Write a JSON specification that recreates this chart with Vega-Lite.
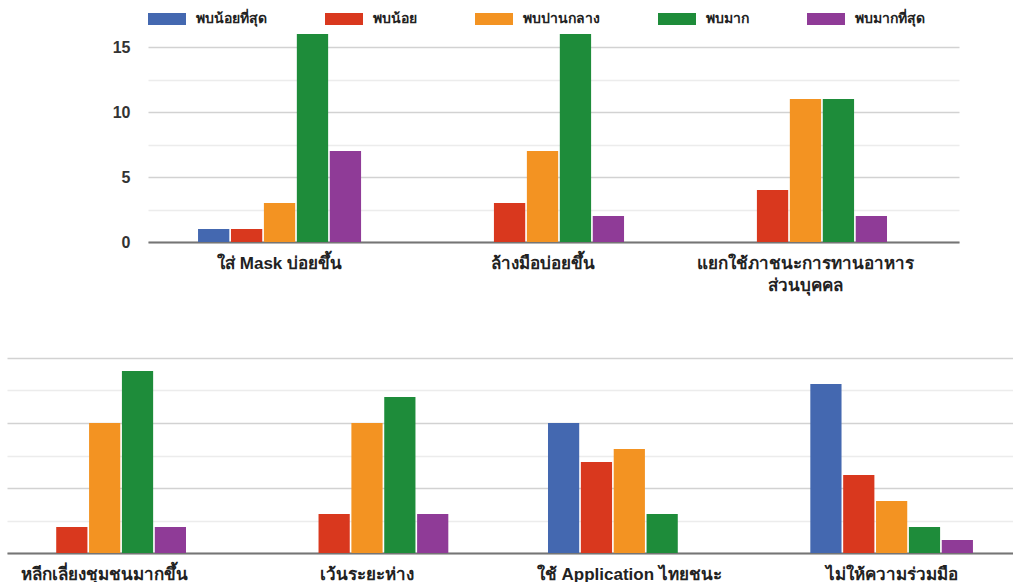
{
  "$schema": "https://vega.github.io/schema/vega-lite/v6.json",
  "background": "white",
  "padding": {"left": 7, "top": 0, "right": 0, "bottom": 0},
  "config": {
    "view": {"stroke": null},
    "font": "Liberation Sans",
    "axis": {"labelFont": "Liberation Sans"},
    "legend": {"labelFont": "Liberation Sans"}
  },
  "datasets": {
    "top": [
      {"item": "ใส่ Mask บ่อยขึ้น", "level": "พบน้อยที่สุด", "value": 1},
      {"item": "ใส่ Mask บ่อยขึ้น", "level": "พบน้อย", "value": 1},
      {"item": "ใส่ Mask บ่อยขึ้น", "level": "พบปานกลาง", "value": 3},
      {"item": "ใส่ Mask บ่อยขึ้น", "level": "พบมาก", "value": 16},
      {"item": "ใส่ Mask บ่อยขึ้น", "level": "พบมากที่สุด", "value": 7},
      {"item": "ล้างมือบ่อยขึ้น", "level": "พบน้อยที่สุด", "value": 0},
      {"item": "ล้างมือบ่อยขึ้น", "level": "พบน้อย", "value": 3},
      {"item": "ล้างมือบ่อยขึ้น", "level": "พบปานกลาง", "value": 7},
      {"item": "ล้างมือบ่อยขึ้น", "level": "พบมาก", "value": 16},
      {"item": "ล้างมือบ่อยขึ้น", "level": "พบมากที่สุด", "value": 2},
      {"item": "แยกใช้ภาชนะการทานอาหารส่วนบุคคล", "level": "พบน้อยที่สุด", "value": 0},
      {"item": "แยกใช้ภาชนะการทานอาหารส่วนบุคคล", "level": "พบน้อย", "value": 4},
      {"item": "แยกใช้ภาชนะการทานอาหารส่วนบุคคล", "level": "พบปานกลาง", "value": 11},
      {"item": "แยกใช้ภาชนะการทานอาหารส่วนบุคคล", "level": "พบมาก", "value": 11},
      {"item": "แยกใช้ภาชนะการทานอาหารส่วนบุคคล", "level": "พบมากที่สุด", "value": 2}
    ],
    "bottom": [
      {"item": "หลีกเลี่ยงชุมชนมากขึ้น", "level": "พบน้อยที่สุด", "value": 0},
      {"item": "หลีกเลี่ยงชุมชนมากขึ้น", "level": "พบน้อย", "value": 2},
      {"item": "หลีกเลี่ยงชุมชนมากขึ้น", "level": "พบปานกลาง", "value": 10},
      {"item": "หลีกเลี่ยงชุมชนมากขึ้น", "level": "พบมาก", "value": 14},
      {"item": "หลีกเลี่ยงชุมชนมากขึ้น", "level": "พบมากที่สุด", "value": 2},
      {"item": "เว้นระยะห่าง", "level": "พบน้อยที่สุด", "value": 0},
      {"item": "เว้นระยะห่าง", "level": "พบน้อย", "value": 3},
      {"item": "เว้นระยะห่าง", "level": "พบปานกลาง", "value": 10},
      {"item": "เว้นระยะห่าง", "level": "พบมาก", "value": 12},
      {"item": "เว้นระยะห่าง", "level": "พบมากที่สุด", "value": 3},
      {"item": "ใช้ Application ไทยชนะ", "level": "พบน้อยที่สุด", "value": 10},
      {"item": "ใช้ Application ไทยชนะ", "level": "พบน้อย", "value": 7},
      {"item": "ใช้ Application ไทยชนะ", "level": "พบปานกลาง", "value": 8},
      {"item": "ใช้ Application ไทยชนะ", "level": "พบมาก", "value": 3},
      {"item": "ใช้ Application ไทยชนะ", "level": "พบมากที่สุด", "value": 0},
      {"item": "ไม่ให้ความร่วมมือ", "level": "พบน้อยที่สุด", "value": 13},
      {"item": "ไม่ให้ความร่วมมือ", "level": "พบน้อย", "value": 6},
      {"item": "ไม่ให้ความร่วมมือ", "level": "พบปานกลาง", "value": 4},
      {"item": "ไม่ให้ความร่วมมือ", "level": "พบมาก", "value": 2},
      {"item": "ไม่ให้ความร่วมมือ", "level": "พบมากที่สุด", "value": 1}
    ]
  },
  "bounds": "flush",
  "spacing": 116,
  "resolve": {
    "scale": {"x": "independent", "y": "independent", "xOffset": "independent"},
    "legend": {"color": "independent"}
  },
  "vconcat": [
    {
      "width": 952,
      "height": 208,
      "data": {"name": "top"},
      "mark": {"type": "bar"},
      "encoding": {
        "x": {
          "field": "item", "type": "nominal", "sort": null,
          "scale": {"range": [141, 952], "paddingInner": 0.38, "paddingOuter": 0.232, "align": 0.41},
          "axis": {
            "title": null, "labelAngle": 0, "ticks": false, "tickSize": 0,
            "domainColor": "#757575", "domainWidth": 2,
            "labelFontSize": 17, "labelFontWeight": "bold", "labelColor": "#222222",
            "labelPadding": 13, "labelLimit": 400, "labelLineHeight": 22,
            "labelExpr": "datum.value === 'แยกใช้ภาชนะการทานอาหารส่วนบุคคล' ? ['แยกใช้ภาชนะการทานอาหาร', 'ส่วนบุคคล'] : datum.label"
          }
        },
        "xOffset": {
          "field": "level", "type": "nominal",
          "sort": ["พบน้อยที่สุด", "พบน้อย", "พบปานกลาง", "พบมาก", "พบมากที่สุด"],
          "scale": {"paddingInner": 0.05, "paddingOuter": 0}
        },
        "y": {
          "field": "value", "type": "quantitative",
          "scale": {"domain": [0, 16], "nice": false},
          "axis": {
            "title": null, "values": [0, 2.5, 5, 7.5, 10, 12.5, 15],
            "labelExpr": "datum.value % 5 === 0 ? datum.label : ''",
            "offset": -141, "domain": false, "ticks": false, "tickSize": 0,
            "labelPadding": 18, "labelFontSize": 16, "labelFontWeight": "bold", "labelColor": "#333333",
            "gridColor": {"condition": {"test": "datum.value % 5 === 0", "value": "#d2d2d2"}, "value": "#ececec"},
            "gridWidth": 1.5
          }
        },
        "color": {
          "field": "level", "type": "nominal",
          "sort": ["พบน้อยที่สุด", "พบน้อย", "พบปานกลาง", "พบมาก", "พบมากที่สุด"],
          "scale": {
            "domain": ["พบน้อยที่สุด", "พบน้อย", "พบปานกลาง", "พบมาก", "พบมากที่สุด"],
            "range": ["#4468b0", "#d9381e", "#f39322", "#1e8c3a", "#8f3b97"]
          },
          "legend": {
            "title": null, "orient": "none", "direction": "horizontal",
            "legendX": 141, "legendY": -34,
            "symbolType": "M-1,-0.32H1V0.32H-1Z", "symbolSize": 1444, "symbolStrokeWidth": 0,
            "labelFontSize": 14, "labelFontWeight": "bold", "labelColor": "#222222",
            "labelOffset": 10, "columnPadding": 58
          }
        }
      }
    },
    {
      "width": 1006,
      "height": 195,
      "data": {"name": "bottom"},
      "mark": {"type": "bar"},
      "encoding": {
        "x": {
          "field": "item", "type": "nominal", "sort": null,
          "scale": {"paddingInner": 0.38, "paddingOuter": 0.1075, "align": 0.29},
          "axis": {
            "title": null, "labelAngle": 0, "ticks": false, "tickSize": 0,
            "domainColor": "#757575", "domainWidth": 2,
            "labelFontSize": 17, "labelFontWeight": "bold", "labelColor": "#222222",
            "labelPadding": 13, "labelLimit": 400
          }
        },
        "xOffset": {
          "field": "level", "type": "nominal",
          "sort": ["พบน้อยที่สุด", "พบน้อย", "พบปานกลาง", "พบมาก", "พบมากที่สุด"],
          "scale": {"paddingInner": 0.05, "paddingOuter": 0}
        },
        "y": {
          "field": "value", "type": "quantitative",
          "scale": {"domain": [0, 15], "nice": false},
          "axis": {
            "title": null, "values": [0, 2.5, 5, 7.5, 10, 12.5, 15],
            "labels": false, "domain": false, "ticks": false, "tickSize": 0,
            "gridColor": {"condition": {"test": "datum.value % 5 === 0", "value": "#d2d2d2"}, "value": "#ececec"},
            "gridWidth": 1.5
          }
        },
        "color": {
          "field": "level", "type": "nominal",
          "sort": ["พบน้อยที่สุด", "พบน้อย", "พบปานกลาง", "พบมาก", "พบมากที่สุด"],
          "scale": {
            "domain": ["พบน้อยที่สุด", "พบน้อย", "พบปานกลาง", "พบมาก", "พบมากที่สุด"],
            "range": ["#4468b0", "#d9381e", "#f39322", "#1e8c3a", "#8f3b97"]
          },
          "legend": null
        }
      }
    }
  ]
}
